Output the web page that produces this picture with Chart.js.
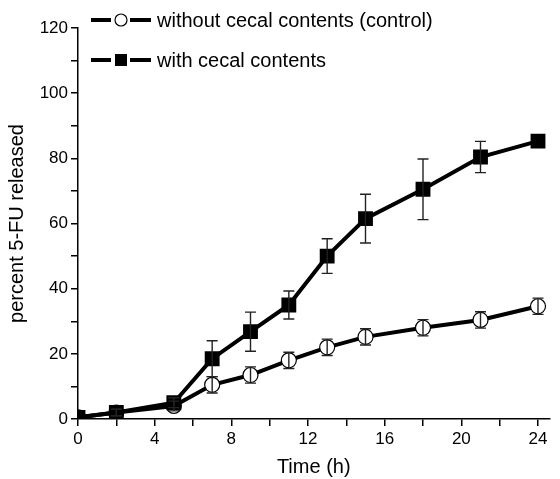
<!DOCTYPE html>
<html>
<head>
<meta charset="utf-8">
<script src="https://cdn.jsdelivr.net/npm/chart.js@4.4.0/dist/chart.umd.min.js"></script>
<style>
  html, body { margin: 0; padding: 0; background: #fff; }
  #wrap { width: 560px; height: 479px; }
</style>
</head>
<body>
<div id="wrap"><canvas id="release-chart"></canvas></div>
<script>
// 5-FU release over time
const timeH = [0, 2, 5, 7, 9, 11, 13, 15, 18, 21, 24];
const controlPct = [0.5, 2, 4, 10.5, 13.5, 18, 22, 25.2, 28, 30.4, 34.6];
const controlErr = [0.5, 1, 1.5, 2.5, 2.5, 2.5, 2.5, 2.5, 2.5, 2.5, 2.5];
const cecalPct = [0.5, 2, 5, 18.5, 26.8, 35, 50, 61.5, 70.5, 80.4, 85.3];
const cecalErr = [0.5, 1, 1.5, 5.5, 6, 4.3, 5.3, 7.5, 9.3, 4.8, 0];
const legendLabels = ['without cecal contents (control)', 'with cecal contents'];
const xTickValues = [0, 2, 4, 6, 8, 10, 12, 14, 16, 18, 20, 22, 24];

const FONT = "'Liberation Sans', Arial, sans-serif";

function toPoints(ys) {
    return timeH.map((t, i) => ({ x: t, y: ys[i] }));
}

// error bars drawn through the scales
const errorBars = {
    id: 'errorBars',
    afterDatasetsDraw(chart) {
        const ctx = chart.ctx;
        const xs = chart.scales.x, ys = chart.scales.y;
        const sets = [[controlPct, controlErr], [cecalPct, cecalErr]];
        ctx.save();
        ctx.strokeStyle = '#222';
        ctx.lineWidth = 1.4;
        sets.forEach(([vals, errs]) => {
            vals.forEach((v, i) => {
                if (!errs[i] || errs[i] < 1) return;
                const px = xs.getPixelForValue(timeH[i]);
                const top = ys.getPixelForValue(v + errs[i]);
                const bot = ys.getPixelForValue(v - errs[i]);
                ctx.beginPath();
                ctx.moveTo(px, top); ctx.lineTo(px, bot);
                ctx.moveTo(px - 5.5, top); ctx.lineTo(px + 5.5, top);
                ctx.moveTo(px - 5.5, bot); ctx.lineTo(px + 5.5, bot);
                ctx.stroke();
            });
        });
        ctx.restore();
    }
};

// legend sits inside the top-left corner of the plot
const legendInside = {
    id: 'legendInside',
    afterDraw(chart) {
        const ctx = chart.ctx;
        ctx.save();
        ctx.font = '20px ' + FONT;
        ctx.textBaseline = 'middle';
        legendLabels.forEach((label, i) => {
            const y = 20 + i * 40;
            ctx.strokeStyle = '#000';
            ctx.lineWidth = 4;
            ctx.beginPath();
            ctx.moveTo(91, y); ctx.lineTo(111, y);
            ctx.moveTo(130, y); ctx.lineTo(151, y);
            ctx.stroke();
            if (i === 0) {
                ctx.lineWidth = 1.2;
                ctx.fillStyle = '#fff';
                ctx.beginPath();
                ctx.arc(121, y, 6, 0, Math.PI * 2);
                ctx.fill();
                ctx.stroke();
            } else {
                ctx.fillStyle = '#000';
                ctx.fillRect(115, y - 6, 12, 12);
            }
            ctx.fillStyle = '#000';
            ctx.fillText(label, 157, y + 1);
        });
        ctx.restore();
    }
};

const ctx = document.getElementById('release-chart').getContext('2d');

new Chart(ctx, {
    type: 'line',
    data: {
        datasets: [
            {
                label: legendLabels[0],
                data: toPoints(controlPct),
                borderColor: '#000',
                borderWidth: 4,
                pointStyle: 'circle',
                pointRadius: 7.5,
                pointBackgroundColor: '#fff',
                pointBorderColor: '#000',
                pointBorderWidth: 1.2,
                order: 2
            },
            {
                label: legendLabels[1],
                data: toPoints(cecalPct),
                borderColor: '#000',
                borderWidth: 4,
                pointStyle: 'rect',
                pointRadius: 10.5,
                pointBackgroundColor: '#000',
                pointBorderColor: '#000',
                pointBorderWidth: 0,
                order: 1
            }
        ]
    },
    options: {
        responsive: true,
        maintainAspectRatio: false,
        animation: false,
        layout: { padding: { top: 28, right: 5, left: 0, bottom: 0 } },
        plugins: {
            legend: { display: false },
            tooltip: { enabled: false }
        },
        scales: {
            x: {
                type: 'linear',
                min: 0,
                max: 24.6,
                afterBuildTicks(scale) {
                    scale.ticks = xTickValues.map(v => ({ value: v }));
                },
                afterFit(scale) { scale.height = 60; },
                ticks: {
                    color: '#000',
                    padding: 3,
                    maxRotation: 0,
                    autoSkip: false,
                    font: { family: FONT, size: 17 },
                    callback: v => (v % 4 === 0 ? v : '')
                },
                grid: {
                    drawOnChartArea: false,
                    drawTicks: true,
                    tickLength: 7,
                    color: '#000',
                    lineWidth: 1.5
                },
                border: { display: true, color: '#000', width: 1.5 },
                title: {
                    display: true,
                    text: 'Time (h)',
                    color: '#000',
                    font: { family: FONT, size: 20 },
                    padding: { top: 1, bottom: 0 }
                }
            },
            y: {
                min: 0,
                max: 120,
                afterFit(scale) { scale.width = 78; },
                ticks: {
                    stepSize: 10,
                    color: '#000',
                    padding: 3,
                    autoSkip: false,
                    font: { family: FONT, size: 17 },
                    callback: v => (v % 20 === 0 ? v : '')
                },
                grid: {
                    drawOnChartArea: false,
                    drawTicks: true,
                    tickLength: 7,
                    color: '#000',
                    lineWidth: 1.5
                },
                border: { display: true, color: '#000', width: 1.5 },
                title: {
                    display: true,
                    text: 'percent 5-FU released',
                    color: '#000',
                    font: { family: FONT, size: 20 },
                    padding: { top: 5, bottom: 0 }
                }
            }
        }
    },
    plugins: [errorBars, legendInside]
});
</script>
</body>
</html>
